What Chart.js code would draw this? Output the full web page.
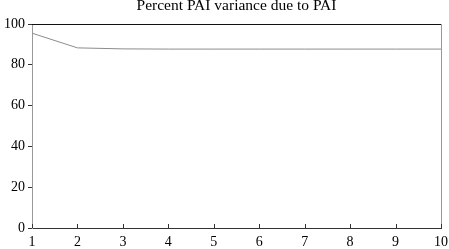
<!DOCTYPE html>
<html>
<head>
<meta charset="utf-8">
<script src="https://cdn.jsdelivr.net/npm/chart.js@4"></script>
<style>
html,body{margin:0;padding:0;background:#fff;}
#wrap{width:449px;height:249px;position:relative;}
</style>
</head>
<body>
<div id="wrap"><canvas id="c" width="449" height="249"></canvas></div>
<script>
const chartTitle = "Percent PAI variance due to PAI";
const periods = ["1","2","3","4","5","6","7","8","9","10"];
const paiShare = [95.5, 88.3, 87.8, 87.7, 87.7, 87.7, 87.7, 87.7, 87.7, 87.7];
const yTicks = [0, 20, 40, 60, 80, 100];

const FONT = "'Liberation Serif', 'Times New Roman', serif";

const framePlugin = {
  id: 'frame',
  afterDraw(chart) {
    const ctx = chart.ctx;
    const a = chart.chartArea;
    const xs = chart.scales.x;
    ctx.save();
    // top border
    ctx.strokeStyle = '#111';
    ctx.lineWidth = 1;
    ctx.beginPath();
    ctx.moveTo(a.left, Math.round(a.top) + 0.5);
    ctx.lineTo(a.right, Math.round(a.top) + 0.5);
    ctx.stroke();
    // right border
    ctx.strokeStyle = '#999';
    ctx.lineWidth = 1;
    ctx.beginPath();
    ctx.moveTo(Math.round(a.right) + 0.5, a.top);
    ctx.lineTo(Math.round(a.right) + 0.5, a.bottom);
    ctx.stroke();
    // inward x ticks
    ctx.strokeStyle = '#333';
    ctx.beginPath();
    xs.ticks.forEach((t, i) => {
      const px = Math.round(xs.getPixelForTick(i)) + 0.5;
      ctx.moveTo(px, a.bottom);
      ctx.lineTo(px, a.bottom - 4);
    });
    ctx.stroke();
    // title
    ctx.fillStyle = '#000';
    ctx.font = "15.5px " + FONT;
    ctx.textAlign = 'center';
    ctx.textBaseline = 'middle';
    ctx.fillText(chartTitle, (a.left + a.right) / 2, 6);
    ctx.restore();
  }
};

new Chart(document.getElementById('c'), {
  type: 'line',
  data: {
    labels: periods,
    datasets: [{
      data: paiShare,
      borderColor: '#8c8c8c',
      borderWidth: 1,
      pointRadius: 0,
      tension: 0,
      fill: false
    }]
  },
  options: {
    responsive: false,
    animation: false,
    devicePixelRatio: 1,
    layout: { padding: { top: 24, right: 8, left: 0, bottom: 0 } },
    plugins: { legend: { display: false }, title: { display: false }, tooltip: { enabled: false } },
    scales: {
      x: {
        type: 'category',
        offset: false,
        grid: { display: true, drawOnChartArea: false, drawTicks: true, tickLength: 5, tickColor: 'rgba(0,0,0,0)', color: '#333' },
        border: { display: true, color: '#333', width: 1 },
        ticks: { color: '#000', font: { family: FONT, size: 14 }, padding: 1, maxRotation: 0, autoSkip: false },
        afterFit(s) { s.height = 21; }
      },
      y: {
        min: 0, max: 100,
        afterBuildTicks(s) { s.ticks = yTicks.map(v => ({ value: v })); },
        grid: { display: true, drawOnChartArea: false, drawTicks: true, tickLength: 4, color: '#333' },
        border: { display: true, color: '#999', width: 1 },
        ticks: { color: '#000', font: { family: FONT, size: 14 }, padding: 3 },
        afterFit(s) { s.width = 32; }
      }
    }
  },
  plugins: [framePlugin]
});
</script>
</body>
</html>
